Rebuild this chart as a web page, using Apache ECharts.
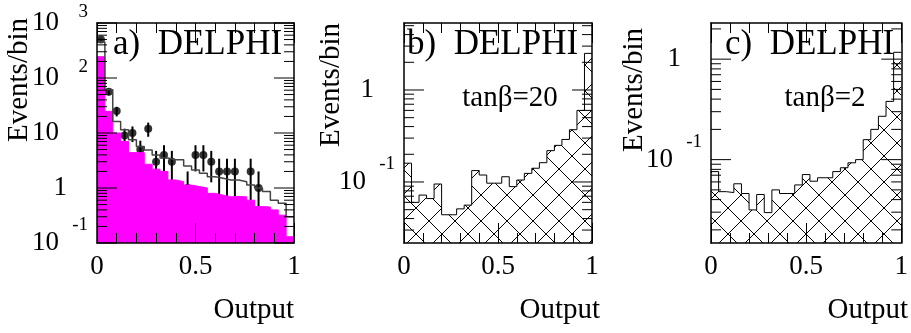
<!DOCTYPE html>
<html>
<head>
<meta charset="utf-8">
<script src="https://cdn.jsdelivr.net/npm/echarts@6.0.0/dist/echarts.min.js"></script>
<style>
html, body { margin: 0; padding: 0; background: #fff; }
#chart { width: 911px; height: 333px; }
</style>
</head>
<body>
<div id="chart"></div>
<script>
// bins of the network output, 25 bins from 0 to 1
var binLo = [0, 0.04, 0.08, 0.12, 0.16, 0.2, 0.24, 0.28, 0.32, 0.36, 0.4, 0.44, 0.48,
             0.52, 0.56, 0.6, 0.64, 0.68, 0.72, 0.76, 0.8, 0.84, 0.88, 0.92, 0.96];
var binWidth = 0.04;

// a) magenta filled histogram, total simulation line, real data
var fillA  = [244, 24.8, 10, 7.0, 4.4, 4.4, 2.7, 2.2, 2.0, 1.4, 1.3, 1.13, 1.06,
              1.0, 0.8, 0.74, 0.69, 0.7, 0.69, 0.6, 0.46, 0.45, 0.4, 0.32, 0.13];
var totalA = [450, 61, 16.2, 11.4, 7.5, 5.7, 4.9, 4.0, 3.5, 3.25, 3.25, 2.5, 2.13,
              1.86, 1.6, 1.5, 1.4, 1.4, 1.3, 1.13, 1.0, 0.86, 0.6, 0.53, 0.3];
var dataA  = [500, 56, 25, 9, 10, 5, 12, 3, 4, 3, 0, 1, 4,
              4, 3, 2, 2, 2, 0, 2, 1, 0, 0, 0, 0];
var errA   = [22.4, 7.5, 5, 3, 3.16, 2.24, 3.46, 1.73, 2, 1.73, 0, 1, 2,
              2, 1.73, 1.41, 1.41, 1.41, 0, 1.41, 1, 0, 0, 0, 0];

// b) signal, tan(beta)=20 ; c) signal, tan(beta)=2
var histB = [0.16, 0.06, 0.072, 0.066, 0.095, 0.044, 0.044, 0.051, 0.056, 0.133, 0.119, 0.097, 0.097,
             0.114, 0.089, 0.105, 0.124, 0.141, 0.162, 0.219, 0.25, 0.29, 0.37, 0.6, 2.5];
var histC = [0.076, 0.048, 0.047, 0.0575, 0.046, 0.0316, 0.045, 0.0297, 0.05, 0.046, 0.046, 0.056, 0.071,
             0.061, 0.066, 0.066, 0.076, 0.083, 0.093, 0.1, 0.158, 0.2, 0.27, 0.38, 1.17];

var yRangeA = [0.1, 1000];
var yRangeB = [0.0217, 5.35];
var yRangeC = [0.0148, 2.29];

var decadesA = [0.1, 1, 10, 100, 1000];
var decLabelsA = [['10', '-1'], ['1', ''], ['10', ''], ['10', '2'], ['10', '3']];
var decadesBC = [0.1, 1];
var decLabelsBC = [['10', '-1'], ['1', '']];
var minorMult = [2, 3, 4, 5, 6, 7, 8, 9];

var FONT = '"Liberation Serif", "Times New Roman", serif';

var frames = [
    { left: 97, width: 197 },
    { left: 404, width: 188 },
    { left: 711, width: 194 }
];

function histLine(vals) {
    var d = [];
    for (var i = 0; i < vals.length; i++) {
        d.push([binLo[i], vals[i]]);
        d.push([binLo[i] + binWidth, vals[i]]);
    }
    return d;
}

function tickData(range) {
    var d = [];
    for (var e = -3; e <= 4; e++) {
        var dec = Math.pow(10, e);
        if (dec >= range[0] && dec <= range[1]) d.push([0, dec, 1]);
        minorMult.forEach(function (m) {
            var v = m * dec;
            if (v > range[0] && v < range[1]) d.push([0, v, 0]);
        });
    }
    return d;
}

function hatchCanvas() {
    var s = 26, c = document.createElement('canvas');
    c.width = s; c.height = s;
    var g = c.getContext('2d');
    g.strokeStyle = '#000';
    g.lineWidth = 1;
    g.beginPath();
    g.moveTo(0, 0); g.lineTo(s, s);
    g.moveTo(0, s); g.lineTo(s, 0);
    g.stroke();
    return c;
}
var hatch = hatchCanvas();

var xAxes = [], yAxes = [], grids = [];
var yRanges = [yRangeA, yRangeB, yRangeC];
frames.forEach(function (f, i) {
    grids.push({ left: f.left, width: f.width, top: 23, height: 220 });
    ['bottom', 'top'].forEach(function (pos) {
        xAxes.push({
            type: 'value', gridIndex: i, position: pos, min: 0, max: 1, interval: 0.5, z: 5,
            axisLine: { show: true, onZero: false, lineStyle: { color: '#000', width: 1.5 } },
            axisTick: { show: true, inside: true, length: 20, lineStyle: { color: '#000', width: 1 } },
            minorTick: { show: true, splitNumber: 5, length: 10, lineStyle: { color: '#000', width: 1 } },
            axisLabel: { show: pos === 'bottom', margin: 10, color: '#000', fontFamily: FONT, fontSize: 27,
                formatter: function (v) { return String(v); } },
            splitLine: { show: false }
        });
    });
    ['left', 'right'].forEach(function (pos) {
        yAxes.push({
            type: 'log', logBase: 10, gridIndex: i, position: pos, min: yRanges[i][0], max: yRanges[i][1], z: 5,
            axisLine: { show: true, onZero: false, lineStyle: { color: '#000', width: 1.5 } },
            axisTick: { show: false }, axisLabel: { show: false }, splitLine: { show: false }
        });
    });
});

function renderTicks(params, api) {
    var v = api.value(1);
    var len = api.value(2) ? 20 : 10;
    var l = api.coord([0, v]), r = api.coord([1, v]);
    return { type: 'group', children: [
        { type: 'line', shape: { x1: l[0], y1: l[1], x2: l[0] + len, y2: l[1] }, style: { stroke: '#000', lineWidth: 1 } },
        { type: 'line', shape: { x1: r[0], y1: r[1], x2: r[0] - len, y2: r[1] }, style: { stroke: '#000', lineWidth: 1 } }
    ] };
}

function labelRenderer(labels) {
    return function (params, api) {
        var p = api.coord([0, api.value(1)]);
        var lab = labels[params.dataIndex];
        var kids = [{ type: 'text', x: p[0] - (lab[0] === '1' ? 30 : 38), y: p[1],
            style: { text: lab[0], font: '27px ' + FONT, fill: '#000', align: 'right', verticalAlign: 'middle' } }];
        if (lab[1]) {
            kids.push({ type: 'text', x: p[0] - 9, y: p[1] - (lab[1].charAt(0) === '-' ? 18 : 11),
                style: { text: lab[1], font: '19px ' + FONT, fill: '#000', align: 'right', verticalAlign: 'middle' } });
        }
        return { type: 'group', children: kids };
    };
}

function axisSeries(i, range, decades, labels) {
    return [
        { type: 'custom', xAxisIndex: 2 * i, yAxisIndex: 2 * i, z: 6, clip: false, silent: true,
          encode: { x: 0, y: 1 }, data: tickData(range), renderItem: renderTicks },
        { type: 'custom', xAxisIndex: 2 * i, yAxisIndex: 2 * i, z: 6, clip: false, silent: true,
          encode: { x: 0, y: 1 }, data: decades.map(function (v) { return [0, v]; }),
          renderItem: labelRenderer(labels) }
    ];
}

var pointsA = [], barsA = [];
dataA.forEach(function (n, i) {
    if (n <= 0) return;
    var x = binLo[i] + binWidth / 2;
    pointsA.push([x, n]);
    barsA.push([x, Math.max(n - errA[i], yRangeA[0]), n + errA[i]]);
});

var series = [
    { type: 'line', xAxisIndex: 0, yAxisIndex: 0, data: histLine(fillA), symbol: 'none',
      lineStyle: { color: '#ff00ff', width: 1 }, areaStyle: { color: '#ff00ff', opacity: 1, origin: 'start' } },
    { type: 'line', xAxisIndex: 0, yAxisIndex: 0, data: histLine(totalA), symbol: 'none',
      lineStyle: { color: '#444', width: 1.5 } },
    { type: 'custom', xAxisIndex: 0, yAxisIndex: 0, encode: { x: 0, y: [1, 2] }, data: barsA,
      renderItem: function (params, api) {
          var lo = api.coord([api.value(0), api.value(1)]);
          var hi = api.coord([api.value(0), api.value(2)]);
          return { type: 'line', shape: { x1: lo[0], y1: lo[1], x2: hi[0], y2: hi[1] },
                   style: { stroke: '#000', lineWidth: 2 } };
      } },
    { type: 'scatter', xAxisIndex: 0, yAxisIndex: 0, data: pointsA, symbol: 'circle', symbolSize: 8,
      itemStyle: { color: '#000' } },
    { type: 'line', xAxisIndex: 2, yAxisIndex: 2, data: histLine(histB), symbol: 'none',
      lineStyle: { color: '#000', width: 1 },
      areaStyle: { color: { image: hatch, repeat: 'repeat' }, opacity: 1, origin: 'start' } },
    { type: 'line', xAxisIndex: 4, yAxisIndex: 4, data: histLine(histC), symbol: 'none',
      lineStyle: { color: '#000', width: 1 },
      areaStyle: { color: { image: hatch, repeat: 'repeat' }, opacity: 1, origin: 'start' } }
];
series = series.concat(axisSeries(0, yRangeA, decadesA, decLabelsA));
series = series.concat(axisSeries(1, yRangeB, decadesBC, decLabelsBC));
series = series.concat(axisSeries(2, yRangeC, decadesBC, decLabelsBC));

function txt(s, x, y, size, align, rot) {
    return { type: 'text', x: x, y: y, rotation: rot || 0, z: 10, silent: true,
             style: { text: s, font: size + 'px ' + FONT, fill: '#000', align: align, verticalAlign: 'middle' } };
}

var graphics = [
    txt('a)  DELPHI', 113, 45, 35, 'left'),
    txt('b)  DELPHI', 407, 45, 35, 'left'),
    txt('c)  DELPHI', 725, 45, 35, 'left'),
    txt('tan\u03b2=20', 510, 98, 29, 'center'),
    txt('tan\u03b2=2', 825, 98, 29, 'center'),
    txt('Output', 294, 310, 29, 'right'),
    txt('Output', 600, 310, 29, 'right'),
    txt('Output', 908, 310, 29, 'right'),
    txt('Events/bin', 19, 80, 29, 'center', Math.PI / 2),
    txt('Events/bin', 331, 85, 29, 'center', Math.PI / 2),
    txt('Events/bin', 634, 90, 29, 'center', Math.PI / 2)
];

var myChart = echarts.init(document.getElementById('chart'));
myChart.setOption({
    animation: false,
    backgroundColor: '#fff',
    grid: grids,
    xAxis: xAxes,
    yAxis: yAxes,
    series: series,
    graphic: graphics
});
</script>
</body>
</html>
